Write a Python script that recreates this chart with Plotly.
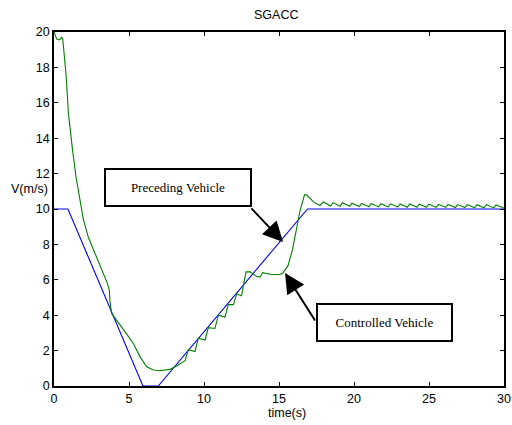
import plotly.graph_objects as go

# Preceding vehicle speed (blue)
lead_t = [0, 0.93, 5.93, 6.95, 16.9, 30]
lead_v = [10, 10, 0, 0, 10, 10]

# Controlled vehicle speed (green)
ctrl_t = [0, 0.07, 0.18, 0.36, 0.51, 0.58, 0.62, 0.8, 0.89, 0.96, 1.07, 1.18, 1.24,
          1.47, 1.73, 1.96, 2.29, 2.73, 3.18, 3.56, 3.69, 3.73, 3.84, 4.18, 4.73, 5.29,
          5.73, 6.18, 6.62, 7.07, 7.73, 8.18, 8.5, 8.75,
          8.95, 9.4, 9.62, 10.07, 10.29, 10.73, 10.96, 11.4, 11.62, 11.96, 12.18, 12.5,
          12.8, 13.07, 13.5, 13.73, 13.9, 14.5, 15.07, 15.27, 15.6, 15.9, 16.4, 16.7,
          16.84, 17.3, 17.73,
          17.95, 18.45, 18.6, 19.08, 19.23, 19.72, 19.87, 20.36, 20.51, 21.0, 21.15,
          21.64, 21.79, 22.28, 22.43, 22.92, 23.07, 23.56, 23.71, 24.2, 24.35, 24.84,
          24.99, 25.48, 25.63, 26.12, 26.27, 26.76, 26.91, 27.4, 27.55, 28.04, 28.19,
          28.68, 28.83, 29.32, 29.47, 29.9, 30]
ctrl_v = [20.0, 19.87, 19.6, 19.55, 19.7, 19.65, 19.3, 17.6, 16.4, 15.4, 14.6, 13.6, 13.3,
          11.8, 10.5, 9.4, 8.4, 7.5, 6.55, 5.8, 5.4, 4.8, 4.1, 3.73, 3.07, 2.4,
          1.66, 1.09, 0.9, 0.86, 0.94, 1.13, 1.3, 1.45,
          2.05, 1.95, 2.7, 2.6, 3.3, 3.25, 4.0, 3.9, 4.6, 4.6, 5.2, 5.1,
          6.45, 6.45, 6.2, 6.15, 6.4, 6.3, 6.3, 6.4, 6.8, 7.7, 9.9, 10.8,
          10.8, 10.4, 10.2,
          10.4, 10.17, 10.36, 10.16, 10.35, 10.15, 10.33, 10.14, 10.32, 10.13, 10.31,
          10.12, 10.3, 10.12, 10.29, 10.11, 10.28, 10.1, 10.28, 10.1, 10.27, 10.1,
          10.27, 10.09, 10.26, 10.09, 10.26, 10.08, 10.25, 10.08, 10.25, 10.07, 10.24,
          10.07, 10.24, 10.06, 10.23, 10.08, 10.05]

x_ticks = [0, 5, 10, 15, 20, 25, 30]
y_ticks = [0, 2, 4, 6, 8, 10, 12, 14, 16, 18, 20]

fig = go.Figure()
fig.add_trace(go.Scatter(x=lead_t, y=lead_v, mode="lines",
                         line=dict(color="#0000FF", width=1.1)))
fig.add_trace(go.Scatter(x=ctrl_t, y=ctrl_v, mode="lines",
                         line=dict(color="#008000", width=1.1)))

axis_common = dict(showgrid=False, zeroline=False, showline=True, linecolor="black",
                   linewidth=1.5, mirror="ticks", ticks="inside", ticklen=4,
                   automargin=False,
                   tickcolor="black", tickfont=dict(family="Liberation Sans, Arial", size=12.5,
                                                    color="black"))
fig.update_xaxes(range=[0, 30], tickvals=x_ticks, **axis_common)
fig.update_yaxes(range=[0, 20], tickvals=y_ticks, **axis_common)

serif = dict(family="Liberation Serif, Times New Roman", size=13, color="black")
sans = dict(family="Liberation Sans, Arial", size=12.5, color="black")

annotations = [
    dict(text="SGACC", xref="paper", yref="paper", x=0.493, y=1.048, showarrow=False,
         font=sans, xanchor="center", yanchor="middle"),
    dict(text="time(s)", xref="paper", yref="paper", x=0.518, y=-0.076, showarrow=False,
         font=sans, xanchor="center", yanchor="middle"),
    dict(text="V(m/s)", xref="paper", yref="paper", x=-0.009, y=0.557, showarrow=False,
         font=sans, xanchor="right", yanchor="middle"),
    # text boxes
    dict(text="Preceding Vehicle", x=8.27, y=11.21, xref="x", yref="y", showarrow=False,
         font=serif, width=144, height=35, bgcolor="white", bordercolor="black",
         borderwidth=2, borderpad=0, xanchor="center", yanchor="middle"),
    dict(text="Controlled Vehicle", x=22.03, y=3.59, xref="x", yref="y", showarrow=False,
         font=serif, width=133, height=35, bgcolor="white", bordercolor="black",
         borderwidth=2, borderpad=0, xanchor="center", yanchor="middle"),
    # arrows
    dict(text="", x=15.27, y=8.14, xref="x", yref="y", showarrow=True, ax=-33, ay=-35,
         arrowhead=2, arrowsize=2, arrowwidth=2, arrowcolor="black"),
    dict(text="", x=15.4, y=6.38, xref="x", yref="y", showarrow=True, ax=31, ay=49,
         arrowhead=2, arrowsize=2, arrowwidth=2, arrowcolor="black"),
]

fig.update_layout(width=512, height=425, margin=dict(l=54, r=8, t=32, b=39),
                  paper_bgcolor="white", plot_bgcolor="white", showlegend=False,
                  annotations=annotations)

fig.write_html("out.html")
